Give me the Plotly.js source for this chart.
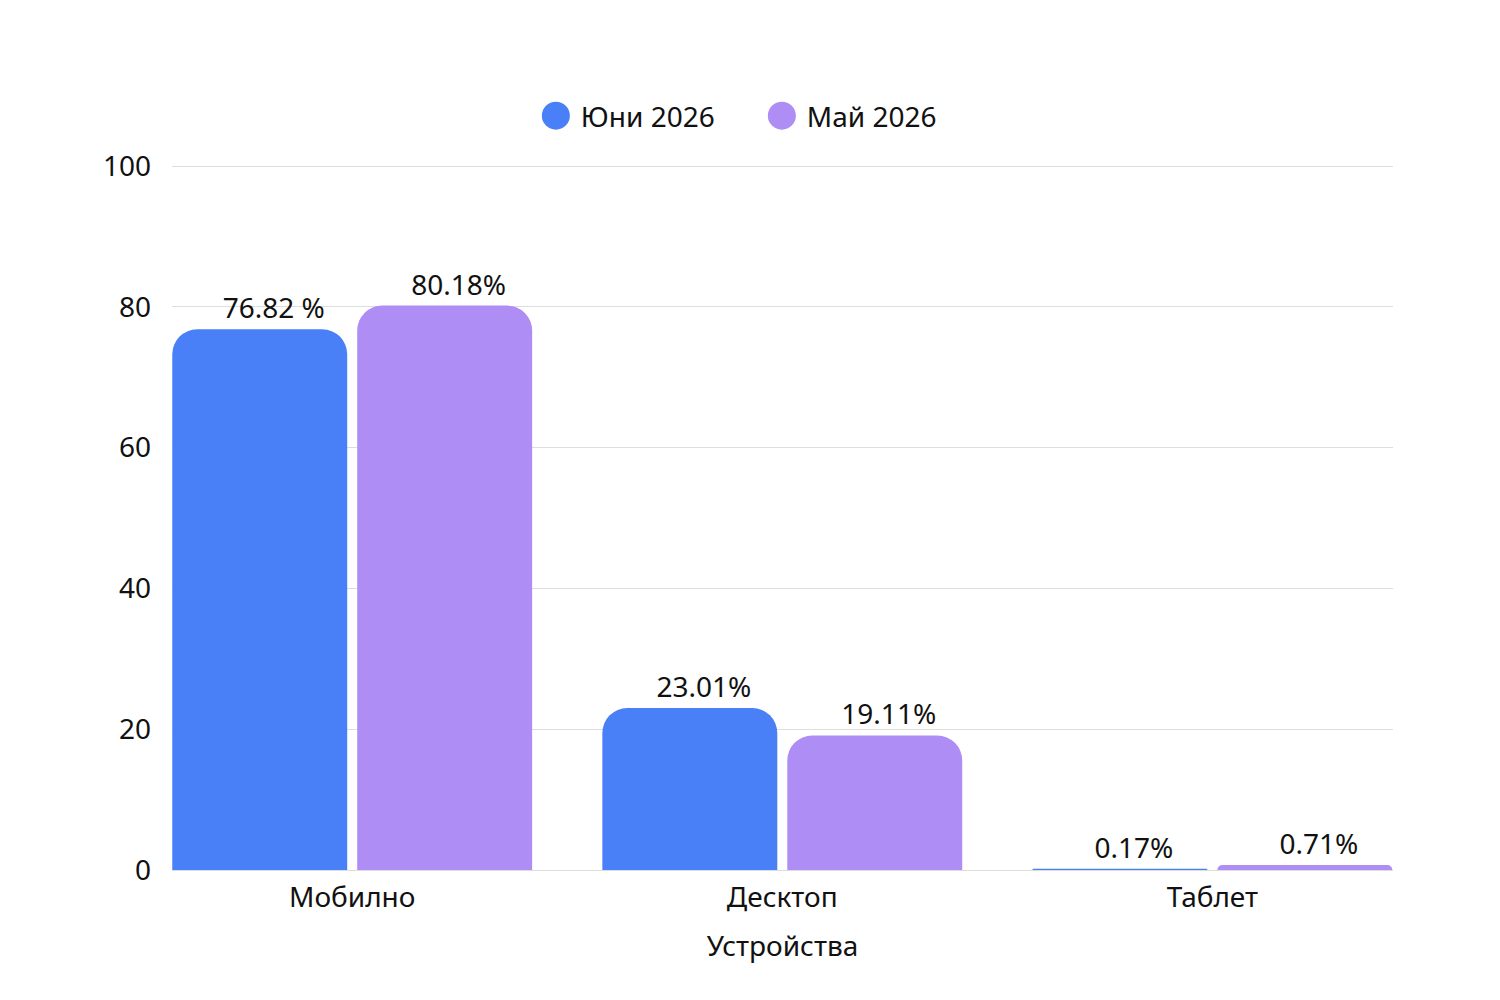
<!DOCTYPE html>
<html>
<head>
<meta charset="utf-8">
<script src="https://cdn.plot.ly/plotly-3.0.1.min.js"></script>
<style>
  html, body { margin: 0; padding: 0; background: #ffffff; }
  #chart { width: 1500px; height: 1000px; }
</style>
</head>
<body>
<div id="chart"></div>
<script>
// categories and series
let devices = ['Мобилно', 'Десктоп', 'Таблет'];
let juneValues = [76.82, 23.01, 0.17];
let mayValues = [80.18, 19.11, 0.71];
let juneLabels = ['76.82 %', '23.01%', '0.17%'];
let mayLabels = ['80.18%', '19.11%', '0.71%'];
let seriesNames = ['Юни 2026', 'Май 2026'];
let yTicks = [0, 20, 40, 60, 80, 100];

let fontFam = '"Noto Sans", "Open Sans", sans-serif';
let pad = '\u2003'; // labels in the original sit a little right of the bar centre

let data = [{ // June
    type: 'bar',
    name: seriesNames[0],
    x: devices,
    y: juneValues,
    text: juneLabels.map(function (s) { return pad + s; }),
    textposition: 'outside',
    cliponaxis: false,
    textfont: { family: fontFam, size: 28, color: '#111111' },
    marker: { color: '#4a80f7' },
    hoverinfo: 'skip',
}, { // May
    type: 'bar',
    name: seriesNames[1],
    x: devices,
    y: mayValues,
    text: mayLabels.map(function (s) { return pad + s; }),
    textposition: 'outside',
    cliponaxis: false,
    textfont: { family: fontFam, size: 28, color: '#111111' },
    marker: { color: '#ae8df4' },
    hoverinfo: 'skip',
},];

let layout = {
    width: 1500,
    height: 1000,
    margin: { l: 172, r: 107, t: 164, b: 130, pad: 0 },
    font: { family: fontFam, size: 28, color: '#111111' },
    paper_bgcolor: '#ffffff',
    plot_bgcolor: '#ffffff',
    barmode: 'group',
    bargap: 0.14,
    bargroupgap: 0.054,
    barcornerradius: 25,
    showlegend: true,
    legend: {
        orientation: 'h',
        x: 0.479,
        xanchor: 'center',
        y: 1.068,
        yanchor: 'middle',
        font: { family: fontFam, size: 28, color: '#111111' },
        itemsizing: 'constant',
        itemwidth: 40,
        entrywidth: 171,
        entrywidthmode: 'pixels',
    },
    xaxis: {
        type: 'category',
        range: [-0.419, 2.42],
        showgrid: false,
        showline: false,
        zeroline: false,
        ticks: '',
        ticklabelstandoff: 8,
        tickfont: { family: fontFam, size: 28, color: '#111111' },
        title: {
            text: 'Устройства',
            font: { family: fontFam, size: 28, color: '#111111' },
            standoff: 22,
        },
    },
    yaxis: {
        range: [0, 100.3],
        tickvals: yTicks,
        gridcolor: '#dddddd',
        gridwidth: 1,
        zeroline: true,
        zerolinecolor: '#dddddd',
        showline: false,
        ticks: '',
        ticklabelstandoff: 20,
        tickfont: { family: fontFam, size: 28, color: '#111111' },
    },
};

let config = { staticPlot: true, displayModeBar: false };

Plotly.newPlot('chart', data, layout, config).then(function () {
    // round legend markers
    document.querySelectorAll('.legendpoints path').forEach(function (p) {
        p.setAttribute('d', 'M-14,0A14,14 0 1,1 14,0A14,14 0 1,1 -14,0Z');
    });
});
</script>
</body>
</html>
